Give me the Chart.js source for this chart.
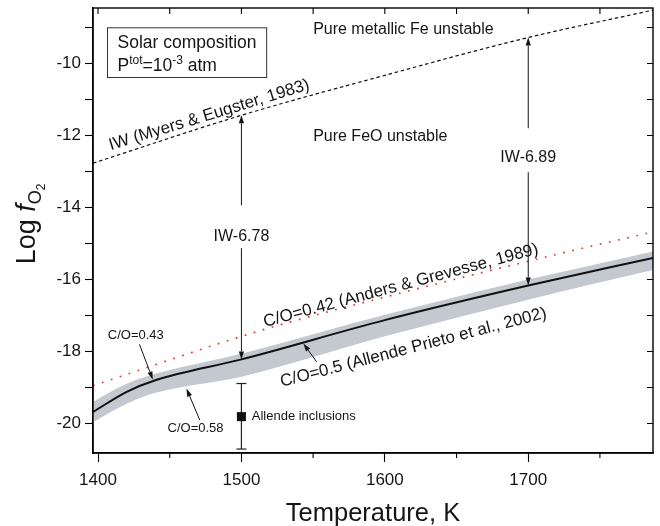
<!DOCTYPE html>
<html>
<head>
<meta charset="utf-8">
<script src="https://cdn.jsdelivr.net/npm/chart.js@4.4.1/dist/chart.umd.min.js"></script>
<style>
  html, body { margin: 0; padding: 0; background: #fff; }
  canvas { display: block; }
</style>
</head>
<body>
<canvas id="chart" width="660" height="526"></canvas>
<script>
const FONT = '"Liberation Sans", Arial, Helvetica, sans-serif';
const INK = '#151515';

// axis ticks
const xTicks = [1400, 1500, 1600, 1700];
const xTickLabels = ['1400', '1500', '1600', '1700'];
const xMinorTicks = [1450, 1550, 1650, 1750];
const yTicks = [-20, -19, -18, -17, -16, -15, -14, -13, -12, -11, -10, -9];
const yTickLabels = ['-20', '', '-18', '', '-16', '', '-14', '', '-12', '', '-10', ''];

// IW buffer (Myers & Eugster, 1983)
const iwTemp = [1396.5, 1500, 1600, 1700, 1787];
const iwLogFO2 = [-12.77, -11.44, -10.33, -9.28, -8.52];

// solar gas, C/O = 0.5, with the C/O 0.43-0.58 spread
const solarTemp = [1396.5, 1420, 1440, 1500, 1600, 1700, 1787];
const solarLogFO2 = [-19.68, -19.12, -18.80, -18.22, -17.13, -16.17, -15.40];
const bandUpper = [-19.40, -18.90, -18.62, -18.06, -16.98, -16.00, -15.22];
const bandLower = [-19.96, -19.45, -19.15, -18.70, -17.58, -16.56, -15.74];

// C/O = 0.42 (Anders & Grevesse, 1989)
const agTemp = [1396.5, 1514, 1600, 1718, 1787];
const agLogFO2 = [-18.95, -17.41, -16.49, -15.32, -14.68];

// Allende inclusions
const allendeTemp = [1500];
const allendeLogFO2 = [-19.81];
const allendeRange = [-18.89, -20.71];

const pts = (xs, ys) => xs.map((x, i) => ({ x, y: ys[i] }));
const at = (xs, ys, t) => ys[xs.indexOf(t)];

function font(size, style) {
  return (style ? style + ' ' : '') + size + 'px ' + FONT;
}

function arrow(ctx, x1, y1, x2, y2) {
  const ang = Math.atan2(y2 - y1, x2 - x1);
  const len = 8, half = 2.6;
  const bx = x2 - Math.cos(ang) * len, by = y2 - Math.sin(ang) * len;
  ctx.beginPath();
  ctx.moveTo(x1, y1);
  ctx.lineTo(bx, by);
  ctx.stroke();
  ctx.beginPath();
  ctx.moveTo(x2, y2);
  ctx.lineTo(bx - Math.sin(ang) * half, by + Math.cos(ang) * half);
  ctx.lineTo(bx + Math.sin(ang) * half, by - Math.cos(ang) * half);
  ctx.closePath();
  ctx.fill();
}

// pieces of text with their own size and baseline shift
function runs(ctx, x, y, parts) {
  let cx = x;
  parts.forEach(p => {
    ctx.font = font(p.size, p.style);
    ctx.fillText(p.text, cx, y + (p.dy || 0));
    cx += ctx.measureText(p.text).width;
  });
  return cx;
}

const notes = {
  id: 'notes',
  afterDraw(chart) {
    const { ctx, chartArea: a, scales: { x, y } } = chart;
    const X = v => x.getPixelForValue(v);
    const Y = v => y.getPixelForValue(v);
    ctx.save();
    ctx.strokeStyle = '#000';
    ctx.fillStyle = INK;

    // frame and mirrored ticks
    ctx.lineWidth = 1.4;
    ctx.strokeRect(a.left, a.top, a.right - a.left, a.bottom - a.top);
    ctx.lineWidth = 1.1;
    ctx.beginPath();
    xTicks.concat(xMinorTicks).forEach(t => {
      ctx.moveTo(X(t), a.top);
      ctx.lineTo(X(t), a.top + 6);
    });
    xMinorTicks.forEach(t => {
      ctx.moveTo(X(t), a.bottom);
      ctx.lineTo(X(t), a.bottom + 5);
    });
    yTicks.forEach(v => {
      ctx.moveTo(a.right, Y(v));
      ctx.lineTo(a.right - 6, Y(v));
    });
    ctx.stroke();

    // y axis title: Log fO2
    ctx.save();
    ctx.translate(35, 224);
    ctx.rotate(-Math.PI / 2);
    ctx.textBaseline = 'alphabetic';
    const title = [
      { text: 'Log ', size: 27 },
      { text: 'f', size: 27, style: 'italic' },
      { text: 'O', size: 18, dy: 6 },
      { text: '2', size: 12, dy: 10 }
    ];
    let w = 0;
    title.forEach(p => { ctx.font = font(p.size, p.style); w += ctx.measureText(p.text).width; });
    runs(ctx, -w / 2, 0, title);
    ctx.restore();

    // legend box
    const bx1 = X(1406.6), by1 = Y(-9.01), bx2 = X(1517.6), by2 = Y(-10.39);
    ctx.lineWidth = 1;
    ctx.strokeStyle = '#333';
    ctx.strokeRect(bx1, by1, bx2 - bx1, by2 - by1);
    ctx.textBaseline = 'alphabetic';
    ctx.textAlign = 'left';
    ctx.font = font(17.5);
    ctx.fillText('Solar composition', bx1 + 10, by1 + 20.5);
    runs(ctx, bx1 + 10, by1 + 43, [
      { text: 'P', size: 17.5 },
      { text: 'tot', size: 12, dy: -7 },
      { text: '=10', size: 17.5 },
      { text: '-3', size: 12, dy: -7 },
      { text: ' atm', size: 17.5 }
    ]);

    // plain labels
    ctx.textBaseline = 'middle';
    const labels = [
      { text: 'Pure metallic Fe unstable', t: 1550, v: -9.05, size: 16, align: 'left' },
      { text: 'Pure FeO unstable', t: 1550, v: -12.02, size: 16, align: 'left' },
      { text: 'IW-6.89', t: 1700, v: -12.62, size: 16, align: 'center' },
      { text: 'IW-6.78', t: 1500, v: -14.82, size: 16, align: 'center' },
      { text: 'C/O=0.43', t: 1406.8, v: -17.55, size: 13, align: 'left' },
      { text: 'C/O=0.58', t: 1448.5, v: -20.14, size: 13, align: 'left' },
      { text: 'Allende inclusions', t: 1507.2, v: -19.81, size: 13, align: 'left' }
    ];
    labels.forEach(l => {
      ctx.font = font(l.size);
      ctx.textAlign = l.align;
      ctx.fillText(l.text, X(l.t), Y(l.v));
    });

    // labels laid along the curves
    ctx.textAlign = 'left';
    ctx.textBaseline = 'alphabetic';
    const slanted = [
      { text: 'IW (Myers & Eugster, 1983)', t: 1408.9, v: -12.41, deg: -17 },
      { text: 'C/O=0.42 (Anders & Grevesse, 1989)', t: 1516.4, v: -17.32, deg: -15 },
      { text: 'C/O=0.5 (Allende Prieto et al., 2002)', t: 1528.1, v: -18.98, deg: -14.6 }
    ];
    ctx.font = font(17);
    slanted.forEach(s => {
      ctx.save();
      ctx.translate(X(s.t), Y(s.v));
      ctx.rotate(s.deg * Math.PI / 180);
      ctx.fillText(s.text, 0, 0);
      ctx.restore();
    });

    // arrows
    ctx.lineWidth = 1;
    ctx.strokeStyle = INK;
    const arrows = [
      [1500, -13.94, 1500, at(iwTemp, iwLogFO2, 1500)],
      [1500, -15.13, 1500, at(solarTemp, solarLogFO2, 1500)],
      [1700, -11.80, 1700, at(iwTemp, iwLogFO2, 1700)],
      [1700, -13.02, 1700, at(solarTemp, solarLogFO2, 1700)],
      [1428.9, -17.80, 1438.2, -18.78],
      [1471.0, -19.91, 1461.7, -19.03],
      [1552.5, -18.29, 1543.2, -17.78]
    ];
    arrows.forEach(([t1, v1, t2, v2]) => arrow(ctx, X(t1), Y(v1), X(t2), Y(v2)));
    ctx.restore();
  }
};

const line = {
  pointRadius: 0,
  pointHoverRadius: 0,
  fill: false,
  cubicInterpolationMode: 'monotone'
};

new Chart(document.getElementById('chart'), {
  type: 'line',
  data: {
    datasets: [
      {
        label: 'Allende inclusions',
        data: pts(allendeTemp, allendeLogFO2),
        showLine: false,
        pointStyle: 'rect',
        pointRadius: 6.4,
        pointBackgroundColor: '#111',
        pointBorderWidth: 0
      },
      {
        label: 'Allende range',
        data: pts([allendeTemp[0], allendeTemp[0]], allendeRange),
        borderColor: '#222',
        borderWidth: 1.2,
        pointStyle: 'line',
        pointRadius: 5,
        pointBorderColor: '#222',
        pointBorderWidth: 1.2
      },
      {
        ...line,
        label: 'C/O=0.5',
        data: pts(solarTemp, solarLogFO2),
        borderColor: '#111',
        borderWidth: 2
      },
      {
        ...line,
        label: 'IW',
        data: pts(iwTemp, iwLogFO2),
        borderColor: '#111',
        borderWidth: 1.2,
        borderDash: [3.5, 2.8]
      },
      {
        ...line,
        label: 'C/O=0.42',
        data: pts(agTemp, agLogFO2),
        borderColor: '#e4343a',
        borderWidth: 1.7,
        borderDash: [1.7, 7.7]
      },
      {
        ...line,
        label: 'C/O 0.58',
        data: pts(solarTemp, bandLower),
        borderWidth: 0,
        borderColor: 'rgba(0,0,0,0)',
        backgroundColor: 'rgb(196,200,207)',
        fill: '+1'
      },
      {
        ...line,
        label: 'C/O 0.43',
        data: pts(solarTemp, bandUpper),
        borderWidth: 0,
        borderColor: 'rgba(0,0,0,0)'
      }
    ]
  },
  options: {
    responsive: false,
    animation: false,
    devicePixelRatio: 1,
    layout: { padding: { top: 8, right: 7, left: 0, bottom: 0 } },
    plugins: { legend: { display: false }, tooltip: { enabled: false } },
    scales: {
      x: {
        type: 'linear',
        min: 1396.5,
        max: 1787,
        afterBuildTicks: s => { s.ticks = xTicks.map(v => ({ value: v })); },
        afterFit: s => { s.height = 73; s.paddingLeft = 0; s.paddingRight = 0; },
        grid: { drawOnChartArea: false, tickLength: 9, tickColor: '#000', tickWidth: 1.1 },
        border: { color: '#000', width: 1.4 },
        ticks: {
          font: { family: FONT, size: 17 },
          color: INK,
          padding: 8,
          maxRotation: 0,
          autoSkip: false,
          callback: (v, i) => xTickLabels[i]
        },
        title: {
          display: true,
          text: 'Temperature, K',
          font: { family: FONT, size: 25.5 },
          color: INK,
          padding: { top: 0, bottom: -3 }
        }
      },
      y: {
        type: 'linear',
        min: -20.82,
        max: -8.46,
        afterBuildTicks: s => { s.ticks = yTicks.map(v => ({ value: v })); },
        afterFit: s => { s.width = 93; s.paddingTop = 0; s.paddingBottom = 0; },
        grid: { drawOnChartArea: false, tickLength: 8, tickColor: '#000', tickWidth: 1.1 },
        border: { color: '#000', width: 1.4 },
        ticks: {
          font: { family: FONT, size: 17 },
          color: INK,
          padding: 4,
          autoSkip: false,
          callback: (v, i) => yTickLabels[i]
        }
      }
    }
  },
  plugins: [notes]
});
</script>
</body>
</html>
